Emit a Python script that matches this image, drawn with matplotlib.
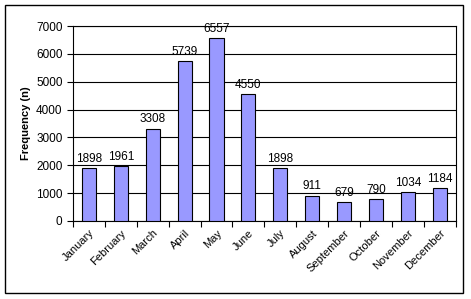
import matplotlib.pyplot as plt
from matplotlib.patches import Rectangle

months = ['January', 'February', 'March', 'April', 'May', 'June', 'July',
          'August', 'September', 'October', 'November', 'December']
freq = [1898, 1961, 3308, 5739, 6557, 4550, 1898, 911, 679, 790, 1034, 1184]

plt.rcParams['font.family'] = ['Liberation Sans', 'DejaVu Sans']

fig = plt.figure(figsize=(4.71, 2.99), dpi=100)
ax = fig.add_axes([0.155, 0.261, 0.8125, 0.652])

# outer chart border
fig.patches.append(Rectangle((5 / 471, 6 / 299), 458 / 471, 288 / 299,
                             transform=fig.transFigure, fill=False,
                             edgecolor='black', linewidth=1))

x = range(len(months))
bars = ax.bar(x, freq, width=0.44, color='#9999ff', edgecolor='black',
              linewidth=0.8, zorder=3)
for xi, v in zip(x, freq):
    ax.text(xi, v + 120, str(v), ha='center', va='bottom', fontsize=8.5)

ax.set_xlim(-0.5, len(months) - 0.5)
ax.set_ylim(0, 7000)
ax.set_yticks(range(0, 7001, 1000))
ax.yaxis.grid(True, color='black', linewidth=0.8, zorder=0)
ax.set_xticks([i - 0.5 for i in range(len(months) + 1)], minor=False)
ax.set_xticklabels([])
ax.set_xticks(list(x), minor=True)
ax.set_xticklabels(months, minor=True, rotation=45, ha='right',
                   rotation_mode='anchor', fontsize=8)
ax.tick_params(axis='x', which='minor', length=0, pad=5)
ax.tick_params(axis='x', which='major', length=4, direction='out')
ax.tick_params(axis='y', length=4, direction='out', labelsize=8.5)
ax.set_ylabel('Frequency (n)', fontsize=8, fontweight='bold')
for s in ax.spines.values():
    s.set_linewidth(0.8)

fig.savefig('out.png', dpi=100)
